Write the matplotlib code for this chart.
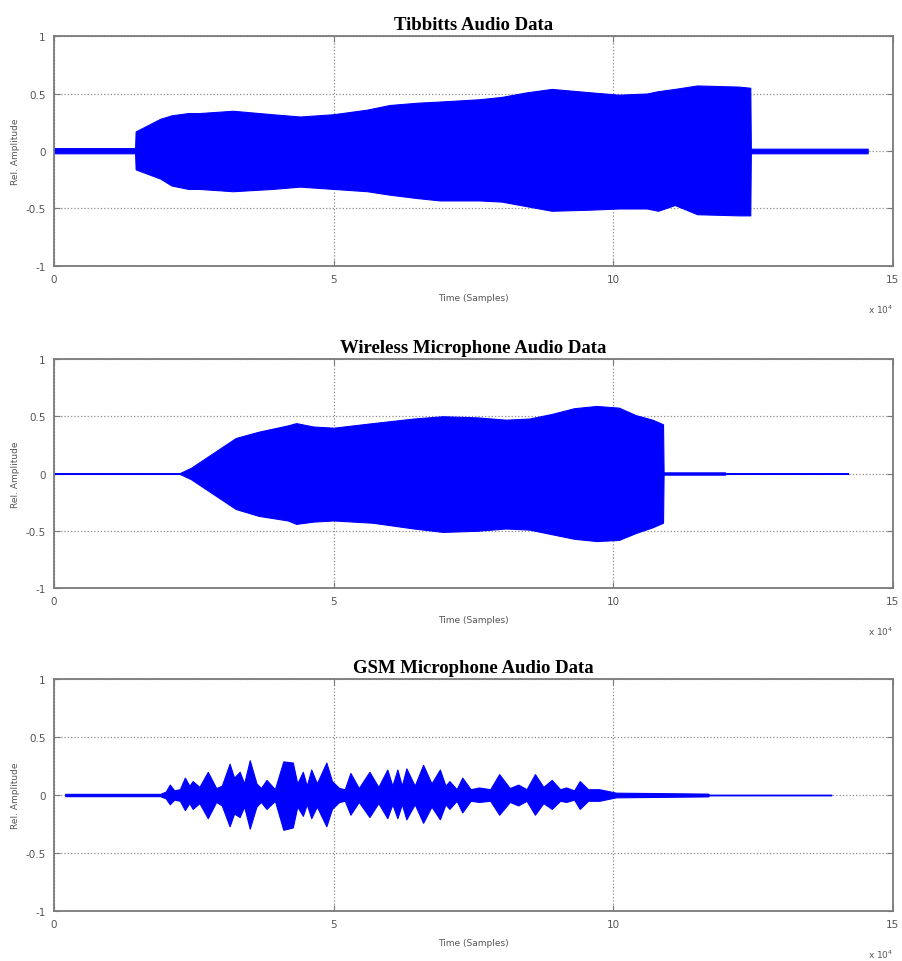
import matplotlib
matplotlib.use("Agg")
import matplotlib.pyplot as plt


# envelopes, time in units of 10^4 samples
tibbitts_t = [0.0, 1.45, 1.46, 1.9, 2.1, 2.4, 2.6, 3.2, 3.9, 4.4, 5.0, 5.6, 6.0, 6.5, 6.9,
              7.6, 8.0, 8.45, 8.9, 9.6, 10.1, 10.6, 10.8, 11.1, 11.5, 12.25, 12.45, 12.46, 14.55]
tibbitts_up = [0.025, 0.025, 0.17, 0.28, 0.31, 0.33, 0.33, 0.35, 0.32, 0.30, 0.32, 0.36, 0.40, 0.42, 0.43,
               0.45, 0.47, 0.51, 0.54, 0.51, 0.49, 0.50, 0.52, 0.54, 0.57, 0.56, 0.55, 0.02, 0.02]
tibbitts_lo = [-0.02, -0.02, -0.16, -0.24, -0.30, -0.33, -0.33, -0.35, -0.33, -0.31, -0.33, -0.35, -0.38, -0.41, -0.43,
               -0.43, -0.44, -0.48, -0.52, -0.51, -0.50, -0.50, -0.52, -0.47, -0.55, -0.56, -0.56, -0.02, -0.02]

wireless_t = [0.0, 2.25, 2.45, 2.85, 3.25, 3.66, 4.18, 4.33, 4.64, 5.0, 5.7, 6.43, 6.95, 7.57,
              8.08, 8.5, 8.9, 9.3, 9.7, 10.1, 10.4, 10.7, 10.89, 10.9, 12.0, 12.01, 14.2]
wireless_up = [0.004, 0.004, 0.05, 0.18, 0.31, 0.365, 0.42, 0.44, 0.41, 0.40, 0.44, 0.48, 0.50, 0.49,
               0.47, 0.48, 0.52, 0.57, 0.59, 0.575, 0.51, 0.47, 0.43, 0.01, 0.01, 0.003, 0.003]
wireless_lo = [-0.004, -0.004, -0.05, -0.18, -0.31, -0.37, -0.41, -0.44, -0.42, -0.41, -0.43, -0.48, -0.51, -0.50,
               -0.48, -0.49, -0.53, -0.57, -0.59, -0.58, -0.52, -0.47, -0.43, -0.01, -0.01, -0.003, -0.003]

gsm_t = [0.2, 1.9, 2.0, 2.07, 2.15, 2.25, 2.34, 2.42, 2.48, 2.6,
         2.75, 2.9, 3.0, 3.14, 3.22, 3.32, 3.4, 3.5, 3.62, 3.7,
         3.8, 3.95, 4.1, 4.27, 4.35, 4.45, 4.52, 4.6, 4.7, 4.87,
         4.97, 5.1, 5.2, 5.3, 5.45, 5.64, 5.8, 5.96, 6.05, 6.14,
         6.22, 6.3, 6.45, 6.6, 6.75, 6.9, 7.0, 7.07, 7.2, 7.3,
         7.45, 7.6, 7.8, 7.96, 8.15, 8.3, 8.45, 8.6, 8.75, 8.9,
         9.05, 9.16, 9.3, 9.4, 9.55, 9.75, 10.05, 11.7, 11.71, 13.9]
gsm_up = [0.01, 0.01, 0.03, 0.09, 0.04, 0.05, 0.15, 0.08, 0.12, 0.07,
          0.20, 0.06, 0.08, 0.27, 0.15, 0.20, 0.10, 0.30, 0.10, 0.06,
          0.13, 0.05, 0.29, 0.28, 0.10, 0.20, 0.08, 0.22, 0.10, 0.28,
          0.12, 0.06, 0.05, 0.19, 0.06, 0.20, 0.07, 0.22, 0.08, 0.22,
          0.08, 0.23, 0.08, 0.26, 0.10, 0.22, 0.08, 0.12, 0.05, 0.15,
          0.05, 0.065, 0.05, 0.18, 0.06, 0.09, 0.05, 0.18, 0.07, 0.13,
          0.05, 0.065, 0.04, 0.12, 0.05, 0.05, 0.02, 0.012, 0.003, 0.003]
gsm_lo = [-0.01, -0.01, -0.03, -0.08, -0.04, -0.05, -0.13, -0.07, -0.12, -0.07,
          -0.20, -0.06, -0.09, -0.27, -0.16, -0.19, -0.10, -0.29, -0.10, -0.06,
          -0.12, -0.05, -0.30, -0.28, -0.10, -0.18, -0.08, -0.20, -0.10, -0.27,
          -0.12, -0.06, -0.05, -0.17, -0.06, -0.19, -0.07, -0.20, -0.08, -0.20,
          -0.08, -0.21, -0.08, -0.24, -0.10, -0.21, -0.08, -0.12, -0.05, -0.15,
          -0.05, -0.06, -0.05, -0.17, -0.06, -0.09, -0.05, -0.17, -0.07, -0.12,
          -0.05, -0.06, -0.04, -0.12, -0.05, -0.05, -0.02, -0.012, -0.003, -0.003]

titles = ["Tibbitts Audio Data", "Wireless Microphone Audio Data", "GSM Microphone Audio Data"]
x_ticks = [0, 5, 10, 15]
y_ticks = [-1, -0.5, 0, 0.5, 1]
y_ticklabels = ["-1", "-0.5", "0", "0.5", "1"]

panels = [(tibbitts_t, tibbitts_up, tibbitts_lo),
          (wireless_t, wireless_up, wireless_lo),
          (gsm_t, gsm_up, gsm_lo)]

# axes boxes in figure fractions (left, bottom, width, height)
boxes = [[0.0598, 0.7225, 0.929, 0.239],
         [0.0598, 0.3877, 0.929, 0.2381],
         [0.0598, 0.0520, 0.929, 0.2411]]

gray = "#7a7a7a"
fig = plt.figure(figsize=(9.03, 9.62), dpi=100)

for box, title, (t, up, lo) in zip(boxes, titles, panels):
    ax = fig.add_axes(box)
    ax.fill_between(t, lo, up, color="#0000ff", linewidth=0.8, edgecolor="#0000ff")
    ax.set_xlim(0, 15)
    ax.set_ylim(-1, 1)
    ax.set_xticks(x_ticks)
    ax.set_yticks(y_ticks)
    ax.set_yticklabels(y_ticklabels)
    ax.grid(True, linestyle=":", color="#8c8c8c", linewidth=0.9)
    ax.set_axisbelow(True)
    for s in ax.spines.values():
        s.set_color(gray)
        s.set_linewidth(1.3)
    ax.tick_params(direction="in", length=4, color=gray, labelcolor="#555555",
                   labelsize=7.5, top=True, right=True, pad=6)
    ax.set_title(title, family="Liberation Serif", fontweight="bold", fontsize=13.5, pad=5)
    ax.set_xlabel("Time (Samples)", fontsize=6.5, color="#555555", labelpad=6)
    ax.set_ylabel("Rel. Amplitude", fontsize=6.5, color="#555555", labelpad=4)
    ax.text(1.0, -0.16, r"x 10$^4$", transform=ax.transAxes, ha="right", va="top",
            fontsize=6.5, color="#555555")

plt.savefig("out.png", dpi=100)
